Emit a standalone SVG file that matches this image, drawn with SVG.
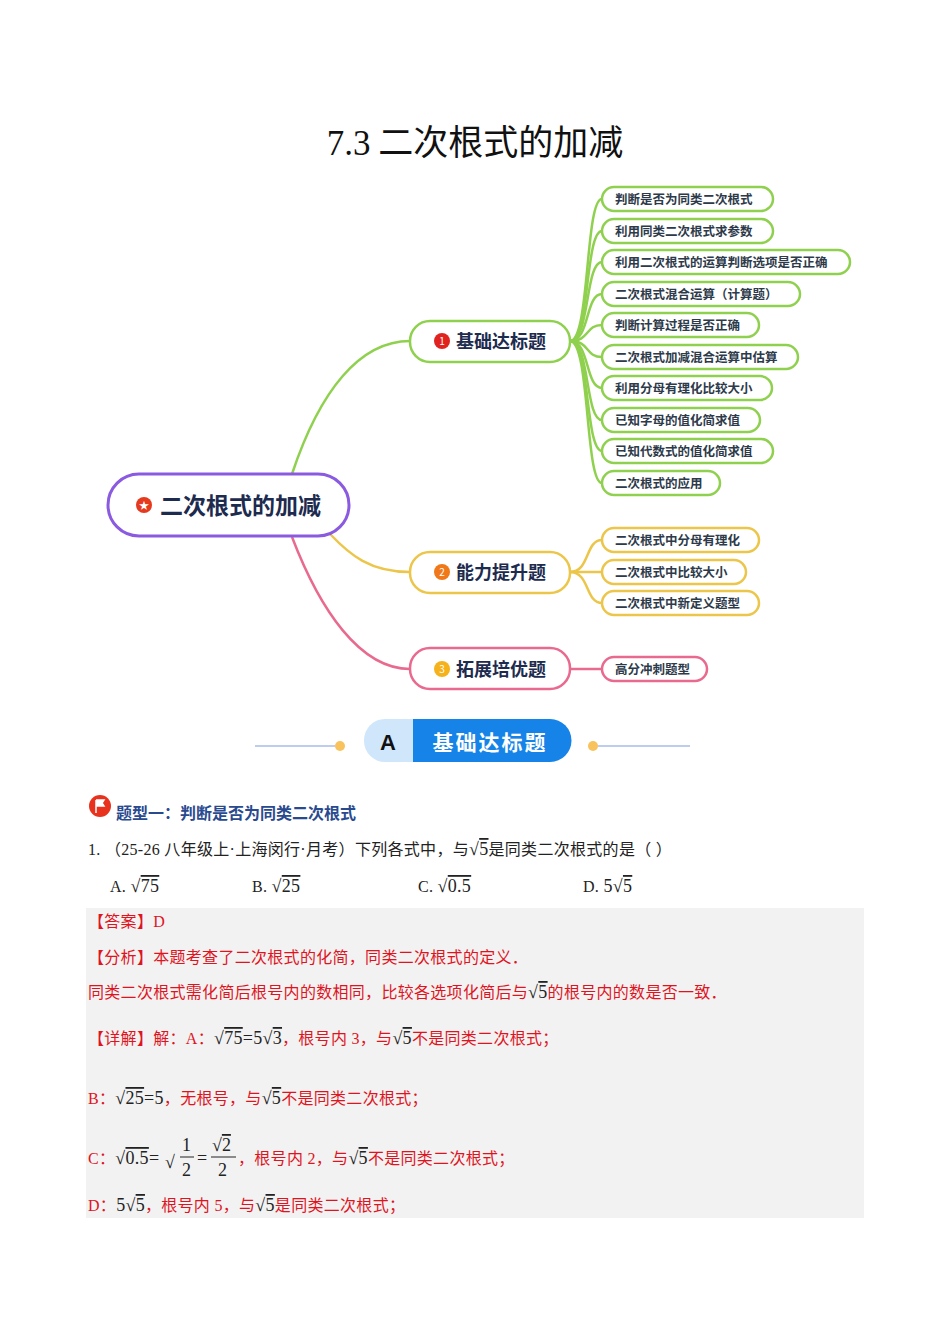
<svg xmlns="http://www.w3.org/2000/svg" width="950" height="1344" viewBox="0 0 950 1344">
<style>
.t{font-family:"Noto Sans CJK SC",sans-serif}
.leaf{fill:#fff;stroke-width:2.5}
.lt{font-family:"Noto Sans CJK SC",sans-serif;font-size:12.5px;font-weight:bold;fill:#2d3a4a;stroke:none}
.mt{font-family:"Noto Sans CJK SC",sans-serif;font-size:18px;font-weight:bold;fill:#1d2b4f}
.g{stroke:#8fd14f}.y{stroke:#ecc64a}.p{stroke:#e96a8f}
.c{fill:none;stroke-width:2.5}
.q{font-family:"Liberation Serif","Noto Sans CJK SC",serif;font-size:16px;fill:#222;letter-spacing:0.3px}
.r{font-family:"Liberation Serif","Noto Sans CJK SC",serif;font-size:16px;fill:#e0141e;letter-spacing:0.3px}
.m{font-family:"Liberation Serif",serif;font-size:18px;fill:#222}
.ol{text-decoration:overline}
</style>
<text x="475" y="155" text-anchor="middle" class="t" font-size="35" fill="#111"><tspan font-family="Liberation Serif">7.3</tspan>  二次根式的加减</text>
<g id="connectors">
<path class="c g" d="M292,474 C320,390 360,341 410,341"/>
<path class="c y" d="M330,534 C350,555 370,572 410,572"/>
<path class="c p" d="M292,537 C320,610 360,669 410,669"/>
<g class="c g">
<path d="M570,341 C590,341 585,199 602,199"/><path d="M570,341 C590,341 585,231 602,231"/><path d="M570,341 C590,341 585,262 602,262"/><path d="M570,341 C590,341 585,294 602,294"/><path d="M570,341 C590,341 585,325 602,325"/><path d="M570,341 C590,341 585,357 602,357"/><path d="M570,341 C590,341 585,388 602,388"/><path d="M570,341 C590,341 585,420 602,420"/><path d="M570,341 C590,341 585,451 602,451"/><path d="M570,341 C590,341 585,483 602,483"/>
</g>
<g class="c y"><path d="M570,572 C590,572 585,540 602,540"/><path d="M570,572 L602,572"/><path d="M570,572 C590,572 585,603 602,603"/></g>
<path class="c p" d="M570,669 L602,669"/>
</g>
<g id="root"><rect x="108" y="474" width="241" height="62" rx="31" fill="#fff" stroke="#8a5ae0" stroke-width="3"/><circle cx="144" cy="505" r="8" fill="#e53a1e"/><text x="144" y="509" text-anchor="middle" font-size="10" fill="#fff" class="t">★</text><text x="160" y="514" class="t" font-size="23" font-weight="bold" fill="#1d2b4f">二次根式的加减</text></g>
<g id="n1"><rect x="410" y="321" width="160" height="41" rx="20" fill="#fff" class="g" stroke-width="2.5"/><circle cx="442" cy="341" r="8" fill="#e0231e"/><text x="442" y="345" text-anchor="middle" font-size="10" fill="#fff" class="t" stroke="none">1</text><text x="456" y="348" class="mt" stroke="none">基础达标题</text></g>
<g id="n2"><rect x="410" y="552" width="160" height="41" rx="20" fill="#fff" class="y" stroke-width="2.5"/><circle cx="442" cy="572" r="8" fill="#f07818"/><text x="442" y="576" text-anchor="middle" font-size="10" fill="#fff" class="t">2</text><text x="456" y="579" class="mt">能力提升题</text></g>
<g id="n3"><rect x="410" y="648" width="160" height="41" rx="20" fill="#fff" class="p" stroke-width="2.5"/><circle cx="442" cy="669" r="8" fill="#f5b21a"/><text x="442" y="673" text-anchor="middle" font-size="10" fill="#fff" class="t">3</text><text x="456" y="676" class="mt">拓展培优题</text></g>
<g id="leaves1" class="g">
<g id="l1"><rect class="leaf" x="602" y="187" width="171" height="24" rx="12"/><text class="lt" x="615" y="204">判断是否为同类二次根式</text></g>
<g id="l2"><rect class="leaf" x="602" y="219" width="171" height="24" rx="12"/><text class="lt" x="615" y="236">利用同类二次根式求参数</text></g>
<g id="l3"><rect class="leaf" x="602" y="250" width="248" height="24" rx="12"/><text class="lt" x="615" y="267">利用二次根式的运算判断选项是否正确</text></g>
<g id="l4"><rect class="leaf" x="602" y="282" width="198" height="24" rx="12"/><text class="lt" x="615" y="299">二次根式混合运算（计算题）</text></g>
<g id="l5"><rect class="leaf" x="602" y="313" width="157" height="24" rx="12"/><text class="lt" x="615" y="330">判断计算过程是否正确</text></g>
<g id="l6"><rect class="leaf" x="602" y="345" width="196" height="24" rx="12"/><text class="lt" x="615" y="362">二次根式加减混合运算中估算</text></g>
<g id="l7"><rect class="leaf" x="602" y="376" width="170" height="24" rx="12"/><text class="lt" x="615" y="393">利用分母有理化比较大小</text></g>
<g id="l8"><rect class="leaf" x="602" y="408" width="158" height="24" rx="12"/><text class="lt" x="615" y="425">已知字母的值化简求值</text></g>
<g id="l9"><rect class="leaf" x="602" y="439" width="171" height="24" rx="12"/><text class="lt" x="615" y="456">已知代数式的值化简求值</text></g>
<g id="l10"><rect class="leaf" x="602" y="471" width="118" height="24" rx="12"/><text class="lt" x="615" y="488">二次根式的应用</text></g>
</g>
<g id="leaves2" class="y">
<g id="l11"><rect class="leaf" x="602" y="528" width="157" height="24" rx="12"/><text class="lt" x="615" y="545">二次根式中分母有理化</text></g>
<g id="l12"><rect class="leaf" x="602" y="560" width="144" height="24" rx="12"/><text class="lt" x="615" y="577">二次根式中比较大小</text></g>
<g id="l13"><rect class="leaf" x="602" y="591" width="157" height="24" rx="12"/><text class="lt" x="615" y="608">二次根式中新定义题型</text></g>
</g>
<g id="leaves3" class="p"><g id="l14"><rect class="leaf" x="602" y="657" width="105" height="24" rx="12"/><text class="lt" x="615" y="674">高分冲刺题型</text></g></g>
<g id="banner">
<line x1="255" y1="746" x2="335" y2="746" stroke="#a8bde8" stroke-width="1.5"/><circle cx="340" cy="746" r="5" fill="#f8c25c"/>
<line x1="598" y1="746" x2="690" y2="746" stroke="#a8bde8" stroke-width="1.5"/><circle cx="593" cy="746" r="5" fill="#f8c25c"/>
<rect x="364" y="719" width="207" height="43" rx="21" fill="#cfe6fb"/>
<path d="M413,719 H550 A21,21 0 0 1 550,762 H413 Z" fill="#1583e8"/>
<text x="388" y="750" text-anchor="middle" font-family="Liberation Sans,sans-serif" font-size="22" font-weight="bold" fill="#111">A</text>
<text x="490" y="750" text-anchor="middle" class="t" font-size="21" font-weight="bold" fill="#fff" letter-spacing="2">基础达标题</text>
</g>
<circle cx="100" cy="806" r="11" fill="#e8321e"/><path d="M96,800 V813 M96,800 h8 l-2,3 l2,3 h-8" fill="#fff" stroke="#fff" stroke-width="1.5"/>
<text x="116" y="819" class="t" font-size="16" font-weight="bold" fill="#2a4a8f">题型一：判断是否为同类二次根式</text>
<text x="88" y="855" class="q">1.  （25-26 八年级上·上海闵行·月考）下列各式中，与<tspan class="m">√<tspan class="ol">5</tspan></tspan>是同类二次根式的是（    ）</text>
<text x="110" y="892" class="q">A.  <tspan class="m">√<tspan class="ol">75</tspan></tspan></text>
<text x="252" y="892" class="q">B.  <tspan class="m">√<tspan class="ol">25</tspan></tspan></text>
<text x="418" y="892" class="q">C.  <tspan class="m">√<tspan class="ol">0.5</tspan></tspan></text>
<text x="583" y="892" class="q">D.  <tspan class="m">5√<tspan class="ol">5</tspan></tspan></text>
<rect x="86" y="908" width="778" height="310" fill="#f2f2f2"/>
<text x="88" y="927" class="r">【答案】D</text>
<text x="88" y="963" class="r">【分析】本题考查了二次根式的化简，同类二次根式的定义．</text>
<text x="88" y="998" class="r">同类二次根式需化简后根号内的数相同，比较各选项化简后与<tspan class="m">√<tspan class="ol">5</tspan></tspan>的根号内的数是否一致．</text>
<text x="88" y="1044" class="r">【详解】解：A：<tspan class="m">√<tspan class="ol">75</tspan>=5√<tspan class="ol">3</tspan></tspan>，根号内 3，与<tspan class="m">√<tspan class="ol">5</tspan></tspan>不是同类二次根式；</text>
<text x="88" y="1104" class="r">B：<tspan class="m">√<tspan class="ol">25</tspan>=5</tspan>，无根号，与<tspan class="m">√<tspan class="ol">5</tspan></tspan>不是同类二次根式；</text>
<text x="88" y="1164" class="r">C：<tspan class="m">√<tspan class="ol">0.5</tspan>=</tspan></text>
<text x="165" y="1168" class="m" font-size="30">√</text>
<text x="182" y="1151" class="m" font-size="16">1</text><line x1="180" y1="1157" x2="194" y2="1157" stroke="#222"/><text x="182" y="1176" class="m" font-size="16">2</text>
<text x="197" y="1164" class="m">=</text>
<text x="212" y="1151" class="m" font-size="16">√<tspan class="ol">2</tspan></text><line x1="211" y1="1157" x2="236" y2="1157" stroke="#222"/><text x="218" y="1176" class="m" font-size="16">2</text>
<text x="238" y="1164" class="r">，根号内 2，与<tspan class="m">√<tspan class="ol">5</tspan></tspan>不是同类二次根式；</text>
<text x="88" y="1211" class="r">D：<tspan class="m">5√<tspan class="ol">5</tspan></tspan>，根号内 5，与<tspan class="m">√<tspan class="ol">5</tspan></tspan>是同类二次根式；</text>
</svg>
